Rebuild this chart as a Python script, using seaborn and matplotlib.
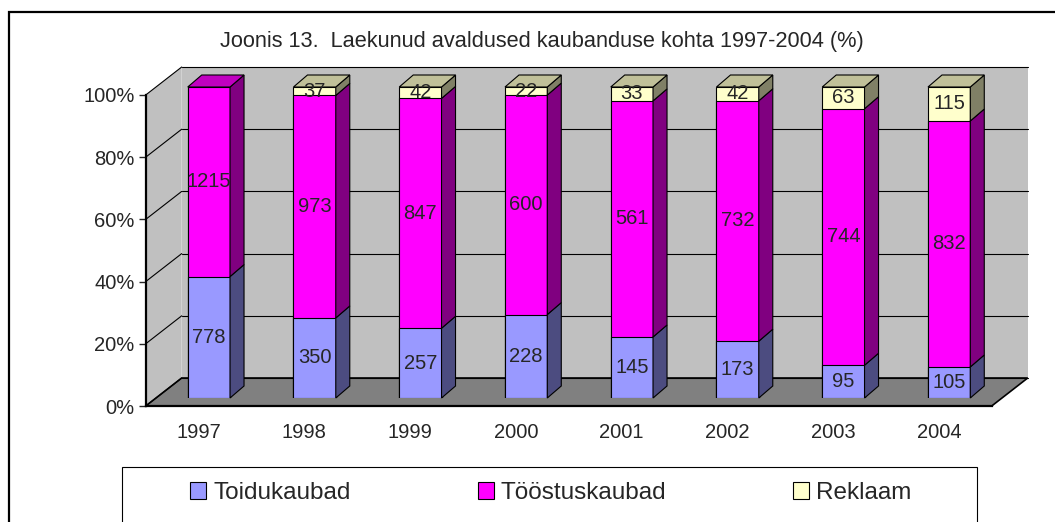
import seaborn as sns
import matplotlib.pyplot as plt
from matplotlib.patches import Polygon, Rectangle, Patch
from matplotlib.ticker import PercentFormatter

years = ["1997", "1998", "1999", "2000", "2001", "2002", "2003", "2004"]
toidukaubad = [778, 350, 257, 228, 145, 173, 95, 105]
toostuskaubad = [1215, 973, 847, 600, 561, 732, 744, 832]
reklaam = [0, 37, 42, 22, 33, 42, 63, 115]
series_names = ["Toidukaubad", "Tööstuskaubad", "Reklaam"]
front_colors = ["#9999FF", "#FF00FF", "#FFFFCC"]
side_colors = ["#4C4C80", "#800080", "#808066"]
top_colors = ["#7373BF", "#C000C0", "#C0C099"]
title = "Joonis 13.  Laekunud avaldused kaubanduse kohta 1997-2004 (%)"

sns.set_style("white")
plt.rcParams["font.family"] = ["Liberation Sans", "DejaVu Sans"]
FS = 14.5

W, H, DPI = 1055, 522, 100
fig = plt.figure(figsize=(W / DPI, H / DPI), dpi=DPI)

# bar plane axes, front plane axes (axis lines and labels)
ax = fig.add_axes([156 / W, 124 / H, 846 / W, 311 / H])
axf = fig.add_axes([(156 - 10.3) / W, 116 / H, 846 / W, 311 / H], zorder=3)

ppx = 846 / 8      # px per category
ppy = 311 / 100    # px per percent
fx, fy = -10.3 / ppx, -8 / ppy     # front plane offset
bx, by = 25.7 / ppx, 20 / ppy      # back plane offset
dx, dy = 14 / ppx, 12 / ppy        # bar depth

# shares in percent
series = [toidukaubad, toostuskaubad, reklaam]
totals = [sum(v) for v in zip(*series)]
cum = []
run = [0] * len(years)
for s in series:
    run = [r + v for r, v in zip(run, s)]
    cum.append([100 * r / t for r, t in zip(run, totals)])

# walls and floor
wall = "#C0C0C0"
ax.add_patch(Polygon([(-0.5 + fx, fy), (-0.5 + fx, 100 + fy), (-0.5 + bx, 100 + by), (-0.5 + bx, by)],
                     fc=wall, ec="none", zorder=0.1, clip_on=False))
ax.add_patch(Polygon([(-0.5 + bx, by), (7.5 + bx, by), (7.5 + bx, 100 + by), (-0.5 + bx, 100 + by)],
                     fc=wall, ec="none", zorder=0.1, clip_on=False))
ax.add_patch(Polygon([(-0.5 + fx, fy), (7.5 + fx, fy), (7.5 + bx, by), (-0.5 + bx, by)],
                     fc="#808080", ec="black", lw=1.2, zorder=0.2, clip_on=False))
for lvl in range(0, 101, 20):
    ax.plot([-0.5 + bx, 7.5 + bx], [lvl + by] * 2, color="black", lw=0.8, zorder=0.3, clip_on=False)
    ax.plot([-0.5 + fx, -0.5 + bx], [lvl + fy, lvl + by], color="black", lw=0.8, zorder=0.3, clip_on=False)

# stacked bars: draw the tallest cumulative first
for k in [2, 1, 0]:
    sns.barplot(x=years, y=cum[k], color=front_colors[k], saturation=1, width=0.4,
                edgecolor="black", linewidth=0.8, ax=ax, zorder=1)

# 3D side and top faces
for i in range(len(years)):
    x0 = i - 0.2
    x1 = i + 0.2
    lows = [0] + [cum[k][i] for k in range(2)]
    top_k = 0
    for k in range(3):
        y0, y1 = lows[k], cum[k][i]
        if y1 - y0 <= 0:
            continue
        top_k = k
        ax.add_patch(Polygon([(x1, y0), (x1, y1), (x1 + dx, y1 + dy), (x1 + dx, y0 + dy)],
                             fc=side_colors[k], ec="black", lw=0.8, zorder=1.5, clip_on=False))
        ax.text(i, (y0 + y1) / 2, str(series[k][i]), ha="center", va="center",
                fontsize=FS, zorder=4, clip_on=False)
    ax.add_patch(Polygon([(x0, 100), (x1, 100), (x1 + dx, 100 + dy), (x0 + dx, 100 + dy)],
                         fc=top_colors[top_k], ec="black", lw=0.8, zorder=1.5, clip_on=False))

ax.set_xlim(-0.5, 7.5)
ax.set_ylim(0, 100)
ax.axis("off")

# front axes
axf.patch.set_visible(False)
axf.set_xlim(-0.5, 7.5)
axf.set_ylim(0, 100)
for side in ["top", "right"]:
    axf.spines[side].set_visible(False)
for side in ["left", "bottom"]:
    axf.spines[side].set_color("black")
    axf.spines[side].set_linewidth(1.6)
axf.set_yticks(range(0, 101, 20))
axf.yaxis.set_major_formatter(PercentFormatter(decimals=0))
axf.set_xticks(range(len(years)))
axf.set_xticklabels(years)
axf.set_xticks([i - 0.5 for i in range(len(years) + 1)], minor=True)
axf.tick_params(axis="x", which="major", length=0, pad=12, labelsize=FS)
axf.tick_params(axis="x", which="minor", length=5, width=1, direction="out")
axf.tick_params(axis="y", length=5, width=1, pad=3, labelsize=FS, left=True)

fig.text(542 / W, 1 - 41 / H, title, ha="center", va="center", fontsize=15.7)

# legend
LFS = 17.5
handles = [Patch(fc=c, ec="black", lw=0.8) for c in front_colors]
fig.legend(handles, series_names, ncol=3, loc="center", bbox_to_anchor=(551 / W, 1 - 493 / H),
           frameon=False, fontsize=LFS, handlelength=0.66, handleheight=0.66,
           handletextpad=0.3, columnspacing=5.2)
fig.add_artist(Rectangle((122 / W, -0.05), (977 - 122) / W, 0.05 + 1 - 467 / H,
                         transform=fig.transFigure, fill=False, ec="black", lw=0.8))

# outer frame
fig.add_artist(Rectangle((9 / W, -0.1), 1.2, 0.1 + 1 - 12 / H,
                         transform=fig.transFigure, fill=False, ec="black", lw=1.6))

fig.savefig("out.png", dpi=DPI)
